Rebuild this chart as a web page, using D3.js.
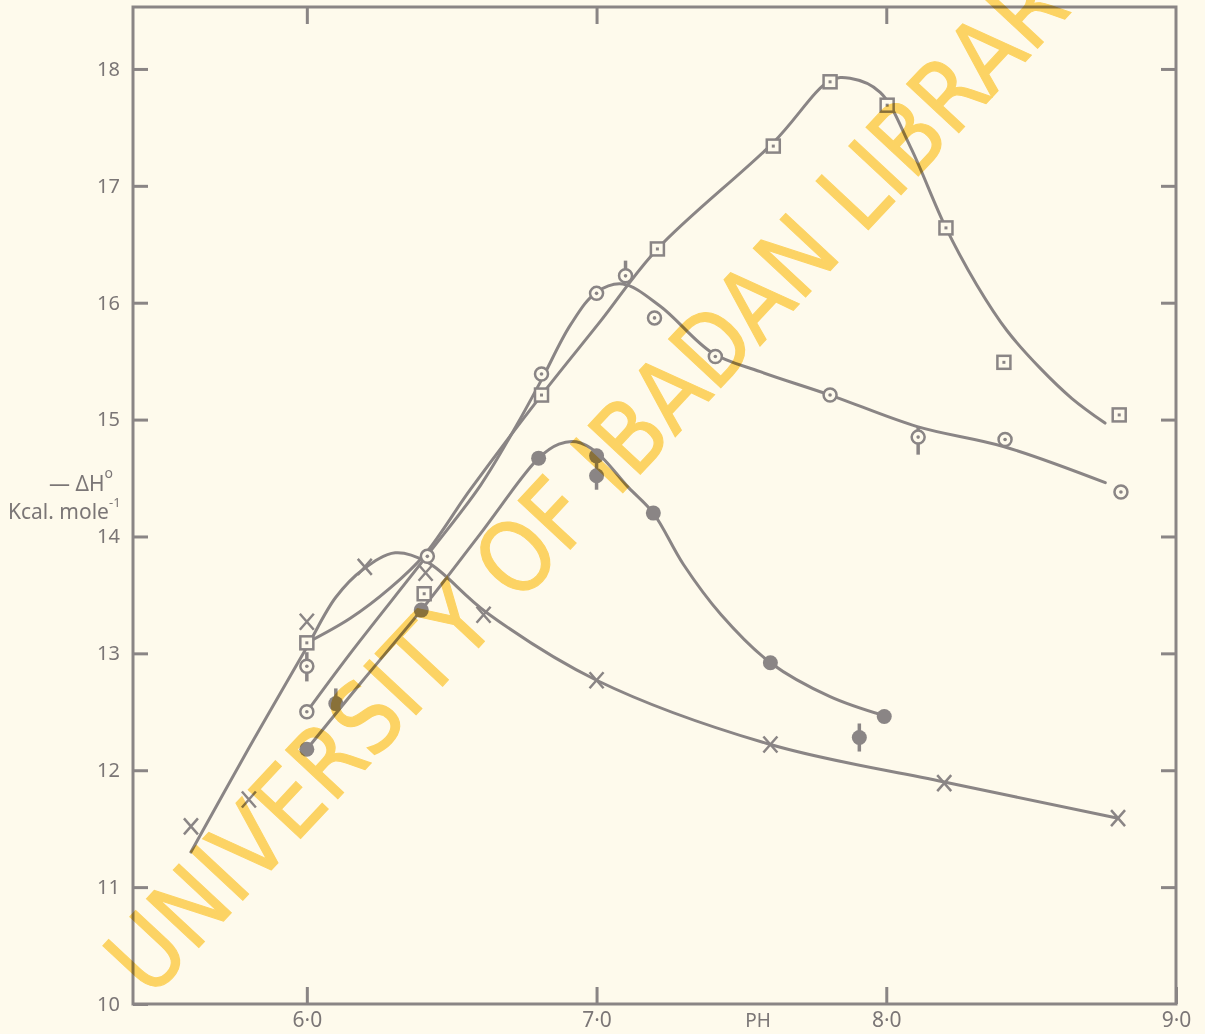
<!DOCTYPE html>
<html>
<head>
<meta charset="utf-8">
<script src="https://cdn.jsdelivr.net/npm/d3@7"></script>
<style>
  body { margin: 0; background: #fefaec; }
  svg { display: block; }
  .tick text { fill: #7b7676; font-family: "Noto Sans", sans-serif; font-size: 20px; }
  .tick line { stroke: #8a8585; stroke-width: 3; }
  .x-axis .tick text { font-size: 21px; }
</style>
</head>
<body>
<div id="chart"></div>
<script>
// Chart size
var svgWidth = 1205;
var svgHeight = 1034;
var frame = { left: 133, top: 7, right: 1176, bottom: 1004 };

// Data (pH, -dH kcal/mol)
var yTicks = [10, 11, 12, 13, 14, 15, 16, 17, 18];
var xTicks = [6, 7, 8, 9];

// crosses
var crossPts = [[5.6, 11.52], [5.8, 11.75], [6.0, 13.27], [6.2, 13.74], [6.41, 13.69], [6.61, 13.33], [7.0, 12.77], [7.6, 12.22], [8.2, 11.89], [8.8, 11.59]];
var crossCurve = [[5.6, 11.30], [5.8, 12.19], [5.995, 13.03], [6.1, 13.48], [6.195, 13.72], [6.305, 13.86], [6.416, 13.78], [6.62, 13.35], [7.0, 12.77], [7.6, 12.22], [8.2, 11.90], [8.8, 11.59]];

// squares
var squarePts = [[6.0, 13.09], [6.405, 13.51], [6.81, 15.21], [7.21, 16.46], [7.61, 17.34], [7.806, 17.89], [8.003, 17.69], [8.206, 16.64], [8.406, 15.49], [8.804, 15.04]];
var squareCurve = [[6.0, 13.09], [6.15, 13.30], [6.288, 13.56], [6.405, 13.84], [6.564, 14.40], [6.81, 15.21], [7.013, 15.84], [7.21, 16.46], [7.61, 17.37], [7.806, 17.90], [7.875, 17.92], [7.979, 17.80], [8.082, 17.34], [8.206, 16.64], [8.313, 16.15], [8.417, 15.76], [8.531, 15.44], [8.641, 15.18], [8.755, 14.97]];

// open circles with dot
var ringPts = [[6.0, 12.89], [6.0, 12.50], [6.416, 13.83], [6.81, 15.39], [7.0, 16.08], [7.1, 16.23], [7.2, 15.87], [7.41, 15.54], [7.806, 15.21], [8.11, 14.85], [8.41, 14.83], [8.81, 14.38]];
var ringCurve = [[6.0, 12.50], [6.15, 13.0], [6.416, 13.84], [6.6, 14.44], [6.726, 14.96], [6.81, 15.34], [6.91, 15.81], [7.0, 16.09], [7.09, 16.16], [7.22, 15.97], [7.40, 15.57], [7.565, 15.41], [7.806, 15.21], [8.107, 14.94], [8.404, 14.77], [8.756, 14.46]];

// filled circles
var dotPts = [[6.0, 12.18], [6.1, 12.57], [6.395, 13.37], [6.8, 14.67], [7.0, 14.69], [7.0, 14.52], [7.196, 14.20], [7.6, 12.92], [7.993, 12.46], [7.907, 12.28]];
var dotCurve = [[6.0, 12.18], [6.184, 12.74], [6.395, 13.37], [6.598, 14.02], [6.8, 14.67], [6.87, 14.79], [6.93, 14.81], [7.0, 14.72], [7.11, 14.42], [7.196, 14.20], [7.30, 13.76], [7.43, 13.33], [7.6, 12.92], [7.806, 12.63], [7.989, 12.47]];

// scatter bars [pH, low, high]
var errBars = [[6.0, 12.76, 13.01], [6.1, 12.57, 12.70], [7.1, 16.23, 16.36], [8.11, 14.70, 14.94], [7.0, 14.40, 14.66], [7.907, 12.16, 12.40]];

var ink = "#8a8585";
var paper = "#fefaec";
var wmText = "UNIVERSITY OF IBADAN LIBRARY";

var svg = d3.select("#chart").append("svg").attr("width", svgWidth).attr("height", svgHeight);
svg.append("rect").attr("width", svgWidth).attr("height", svgHeight).attr("fill", paper);

var x = d3.scaleLinear().domain([5.4, 9.0]).range([frame.left, frame.right]);
var y = d3.scaleLinear().domain([10, 18.53]).range([frame.bottom, frame.top]);

// axes with inward ticks
var leftAxis = d3.axisLeft(y).tickValues(yTicks).tickSize(-15).tickPadding(13).tickFormat(d3.format("d"));
svg.append("g").attr("transform", `translate(${frame.left},0)`).call(leftAxis).call(g => g.select(".domain").remove());

var rightAxis = d3.axisRight(y).tickValues(yTicks.slice(1)).tickSize(-15).tickFormat("");
svg.append("g").attr("transform", `translate(${frame.right},0)`).call(rightAxis).call(g => g.select(".domain").remove());

var bottomAxis = d3.axisBottom(x).tickValues(xTicks).tickSize(-17).tickPadding(8).tickFormat(d => d3.format(".1f")(d).replace(".", "·"));
svg.append("g").classed("x-axis", true).attr("transform", `translate(0,${frame.bottom})`).call(bottomAxis).call(g => g.select(".domain").remove());

var topAxis = d3.axisTop(x).tickValues(xTicks.slice(0, 3)).tickSize(-17).tickFormat("");
svg.append("g").attr("transform", `translate(0,${frame.top})`).call(topAxis).call(g => g.select(".domain").remove());

svg.append("rect")
  .attr("x", frame.left).attr("y", frame.top)
  .attr("width", frame.right - frame.left).attr("height", frame.bottom - frame.top)
  .attr("fill", "none").attr("stroke", ink).attr("stroke-width", 3);

// axis titles
svg.append("text").attr("x", 758).attr("y", 1027).attr("text-anchor", "middle")
  .attr("fill", "#7b7676").style("font-family", "Noto Sans, sans-serif").style("font-size", "19px").text("PH");

var yLab = svg.append("g").attr("fill", "#7b7676").style("font-family", "Noto Sans, sans-serif").style("font-size", "21px");
var l1 = yLab.append("text").attr("x", 113).attr("y", 491).attr("text-anchor", "end");
l1.append("tspan").text("—  ΔH");
l1.append("tspan").attr("dy", -13).style("font-size", "14px").text("o");
var l2 = yLab.append("text").attr("x", 8).attr("y", 519);
l2.append("tspan").text("Kcal. mole");
l2.append("tspan").attr("dy", -12).style("font-size", "13px").text("-1");

// curves
var line = d3.line().x(d => x(d[0])).y(d => y(d[1])).curve(d3.curveCatmullRom.alpha(0.5));
var curves = [crossCurve, squareCurve, ringCurve, dotCurve];
svg.append("g").selectAll("path").data(curves).enter().append("path")
  .attr("d", line).attr("fill", "none").attr("stroke", ink).attr("stroke-width", 3).attr("stroke-linecap", "round");

// scatter bars
svg.append("g").selectAll("line").data(errBars).enter().append("line")
  .attr("x1", d => x(d[0])).attr("x2", d => x(d[0]))
  .attr("y1", d => y(d[1])).attr("y2", d => y(d[2]))
  .attr("stroke", ink).attr("stroke-width", 3.5);

// markers
var crosses = svg.append("g").selectAll("g").data(crossPts).enter().append("g")
  .attr("transform", d => `translate(${x(d[0])},${y(d[1])})`);
crosses.append("path").attr("d", "M-7,-8L7,8M7,-8L-7,8").attr("stroke", ink).attr("stroke-width", 2.5).attr("fill", "none");

var squares = svg.append("g").selectAll("g").data(squarePts).enter().append("g")
  .attr("transform", d => `translate(${x(d[0])},${y(d[1])})`);
squares.append("rect").attr("x", -6.5).attr("y", -6.5).attr("width", 13).attr("height", 13)
  .attr("fill", paper).attr("stroke", ink).attr("stroke-width", 2.5);
squares.append("rect").attr("x", -1.5).attr("y", -1.5).attr("width", 3).attr("height", 3).attr("fill", ink);

var rings = svg.append("g").selectAll("g").data(ringPts).enter().append("g")
  .attr("transform", d => `translate(${x(d[0])},${y(d[1])})`);
rings.append("circle").attr("r", 6.5).attr("fill", paper).attr("stroke", ink).attr("stroke-width", 2.5);
rings.append("circle").attr("r", 1.8).attr("fill", ink);

svg.append("g").selectAll("circle").data(dotPts).enter().append("circle")
  .attr("cx", d => x(d[0])).attr("cy", d => y(d[1])).attr("r", 7.5).attr("fill", ink);

// library watermark
svg.append("text")
  .attr("transform", "translate(150,1000) rotate(-47)")
  .attr("textLength", 1400).attr("lengthAdjust", "spacingAndGlyphs")
  .attr("fill", "#fdd45c").attr("stroke", "#fdd45c").attr("stroke-width", 1.2)
  .attr("opacity", 0.9).style("mix-blend-mode", "multiply")
  .style("font-family", "DejaVu Sans, sans-serif").style("font-size", "98px")
  .text(wmText);
</script>
</body>
</html>
